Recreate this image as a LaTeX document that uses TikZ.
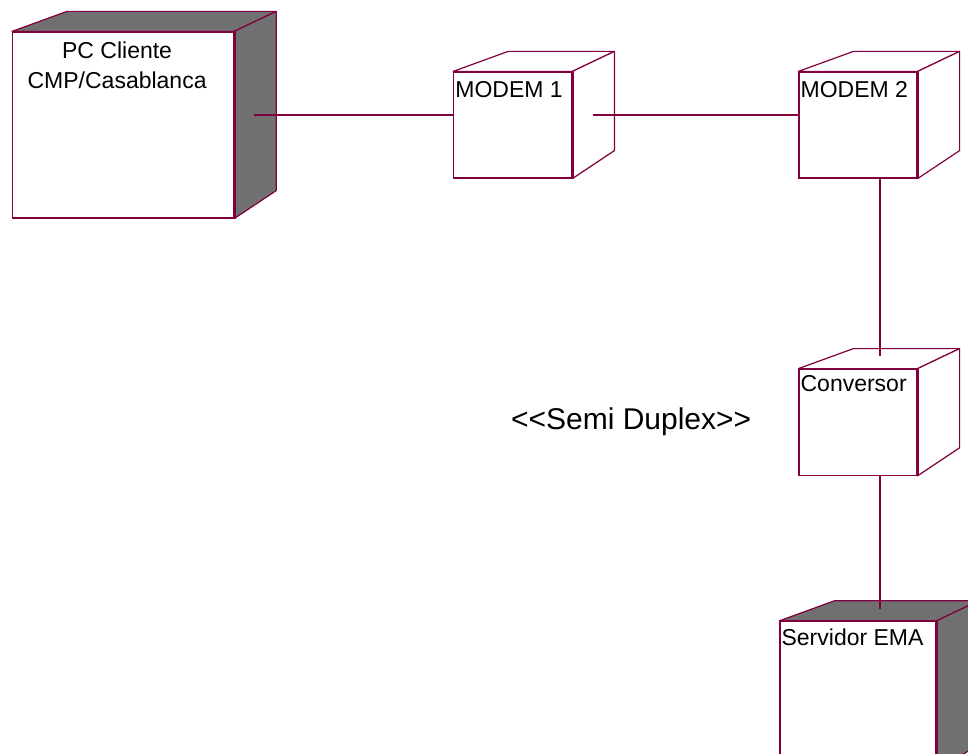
\documentclass[tikz,border=0pt]{standalone}
\usepackage{fontspec}
\setmainfont{Liberation Sans}
\usetikzlibrary{positioning}
\definecolor{rosered}{RGB}{128,0,64}
\definecolor{rosegray}{RGB}{112,112,112}

\begin{document}
\begin{tikzpicture}[
        x=1pt, y=-1pt,
        node distance=190pt and 226pt,
        device/.style={rectangle, draw=rosered, line width=1.2pt, fill=white, inner sep=0pt},
        small/.style={device, minimum width=118pt, minimum height=106pt},
        big/.style={device, minimum width=221pt, minimum height=186pt},
        tag/.style={font=\fontsize{23}{30}\selectfont, inner sep=2pt},
        face/.style={draw=rosered, line width=1.2pt, line join=round},
        link/.style={draw=rosered, line width=1.2pt}
    ]
    \useasboundingbox (0,0) rectangle (968,754);

    % Modems
    \node [small, label={[tag, anchor=north west, yshift=-8pt]north west:MODEM 2}] (m2) at (858,125) {};
    \node [small, left=226pt of m2, label={[tag, anchor=north west, yshift=-8pt]north west:MODEM 1}] (m1) {};

    % Client PC
    \node [big, left=219pt of m1, label={[tag, anchor=north, align=center, xshift=-6pt, yshift=-8pt]north:PC Cliente\\CMP/Casablanca}] (pc) {};

    % Converter and server
    \node [small, below=of m2, label={[tag, anchor=north west, yshift=-5pt]north west:Conversor}] (conv) {};
    \node [big, minimum width=156pt, minimum height=150pt, below=145pt of conv, label={[tag, anchor=north west, yshift=-6pt]north west:Servidor EMA}] (serv) {};

    % Stereotype
    \node [font=\fontsize{30}{36}\selectfont, inner sep=0pt, left=47pt of conv] (duplex) {<{}<Semi Duplex>{}>};

    % Depth of the boxes
    \foreach \n/\shade in {pc/rosegray, m1/white, m2/white, conv/white, serv/rosegray} {
        \filldraw [face, fill=\shade] (\n.north west) -- ++(55,-20) -- ([shift={(42,-20)}]\n.north east) -- (\n.north east) -- cycle;
        \filldraw [face, fill=\shade] (\n.north east) -- ++(42,-20) -- ([shift={(42,-28)}]\n.south east) -- (\n.south east) -- cycle;
        \draw [rosered, line width=3pt] (\n.north east) -- (\n.south east);
    }

    % Connecting Lines
    \draw [link] ([xshift=20pt, yshift=10pt]pc.east) -- ([yshift=10pt]m1.west);
    \draw [link] ([xshift=21pt, yshift=10pt]m1.east) -- ([yshift=10pt]m2.west);
    \draw [link] ([xshift=22pt]m2.south) -- ([xshift=22pt, yshift=13pt]conv.north);
    \draw [link] ([xshift=22pt]conv.south) -- ([xshift=22pt, yshift=12pt]serv.north);

\end{tikzpicture}
\end{document}
